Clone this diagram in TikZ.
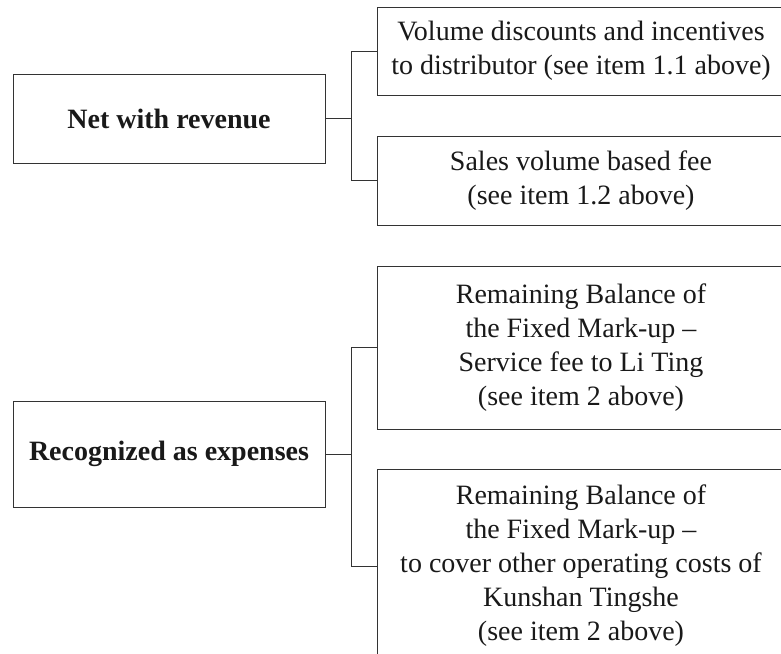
\documentclass[tikz,border=0pt]{standalone}
\usepackage{fontspec}
\setmainfont{Liberation Serif}
\begin{document}
\begin{tikzpicture}[x=1pt,y=-1pt,
  box/.style={draw=black!80,line width=0.9pt,rectangle,align=center,inner sep=0pt,text=black!90,
    font=\fontsize{28}{34}\selectfont},
  lbox/.style={box,minimum width=312pt,font=\fontsize{28}{34}\selectfont\bfseries},
  rbox/.style={box,minimum width=408pt},
  conn/.style={draw=black!80,line width=0.9pt}]
\useasboundingbox (0,0) rectangle (781,653);
\clip (0,0) rectangle (781,653);
\node[lbox,minimum height=89pt] (n1) at (169,118.5) {Net with revenue};
\node[rbox,minimum height=88pt] (a) at (581,51) {Volume discounts and incentives\\to distributor (see item 1.1 above)};
\node[rbox,minimum height=89pt] (b) at (581,180.5) {Sales volume based fee\\(see item 1.2 above)};
\node[lbox,minimum height=106pt] (n2) at (169,454) {Recognized as expenses};
\node[rbox,minimum height=163pt] (c) at (581,347.5) {Remaining Balance of\\the Fixed Mark-up –\\Service fee to Li Ting\\(see item 2 above)};
\node[rbox,minimum height=194pt] (d) at (581,566) {Remaining Balance of\\the Fixed Mark-up –\\to cover other operating costs of\\Kunshan Tingshe\\(see item 2 above)};
\coordinate (j1) at (351,118.5);
\coordinate (j2) at (351,454);
\draw[conn] (n1.east) -- (j1);
\draw[conn] (a.west) -| (j1);
\draw[conn] (b.west) -| (j1);
\draw[conn] (n2.east) -- (j2);
\draw[conn] (c.west) -| (j2);
\draw[conn] (d.west) -| (j2);
\end{tikzpicture}
\end{document}
